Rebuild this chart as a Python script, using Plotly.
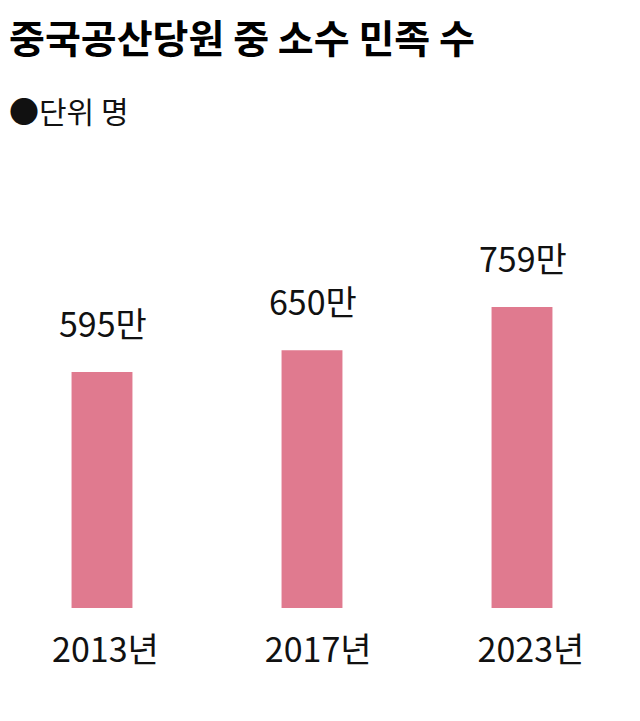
import plotly.graph_objects as go

years = ["2013년", "2017년", "2023년"]
members = [595, 650, 759]
value_labels = ["595만", "650만", "759만"]

TITLE = "중국공산당원 중 소수 민족 수"
UNIT = "●단위 명"
BAR_COLOR = "#E07A8F"
FONT = "Noto Sans CJK KR"

fig = go.Figure()
fig.add_trace(
    go.Bar(
        x=years,
        y=members,
        marker={"color": BAR_COLOR, "line": {"width": 0}},
        width=0.29,
        hoverinfo="skip",
    )
)
# invisible copy on a second category axis that only carries the year labels
fig.add_trace(
    go.Bar(
        x=years,
        y=members,
        xaxis="x2",
        opacity=0,
        hoverinfo="skip",
    )
)

# value labels above bars
for yr, v, lab in zip(years, members, value_labels):
    fig.add_annotation(
        x=yr,
        y=v,
        text=lab,
        showarrow=False,
        yanchor="bottom",
        yshift=23,
        xshift=1,
        font={"family": FONT, "size": 34, "color": "#111111"},
    )

# title and unit note, placed relative to the plot top
fig.add_annotation(
    xref="paper",
    yref="paper",
    x=0,
    y=1,
    xanchor="left",
    yanchor="middle",
    xshift=-1,
    yshift=172,
    text=f"<b>{TITLE}</b>",
    showarrow=False,
    font={"family": FONT, "size": 39, "color": "#000000"},
)
fig.add_annotation(
    xref="paper",
    yref="paper",
    x=0,
    y=1,
    xanchor="left",
    yanchor="middle",
    xshift=-1,
    yshift=98,
    text=UNIT,
    showarrow=False,
    font={"family": FONT, "size": 30, "color": "#111111"},
)

axis_common = {
    "showgrid": False,
    "zeroline": False,
    "showline": False,
    "ticks": "",
    "fixedrange": True,
}

fig.update_layout(
    width=640,
    height=721,
    margin={"l": 0, "r": 0, "t": 200, "b": 121},
    paper_bgcolor="#ffffff",
    plot_bgcolor="#ffffff",
    showlegend=False,
    barmode="overlay",
    xaxis={**axis_common, "range": [-0.4476, 2.6], "showticklabels": False},
    xaxis2={
        **axis_common,
        "type": "category",
        "categoryarray": years,
        "overlaying": "x",
        "anchor": "y",
        "side": "bottom",
        "range": [-0.458, 2.55],
        "tickfont": {"family": FONT, "size": 34, "color": "#111111"},
        "ticklabelstandoff": 19,
    },
    yaxis={
        "range": [0, 1008.6],
        "visible": False,
        "fixedrange": True,
    },
)

fig.write_html("out.html")
